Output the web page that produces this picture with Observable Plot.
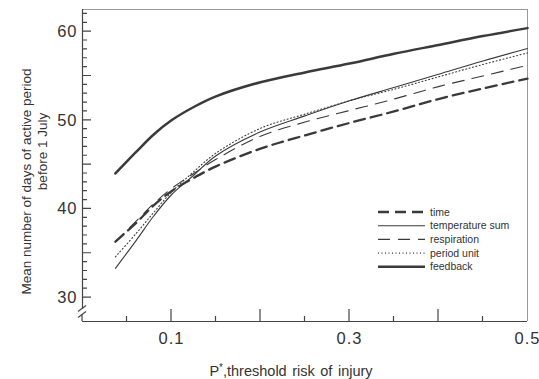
<!DOCTYPE html>
<html>
<head>
<meta charset="utf-8">
<script src="https://cdn.jsdelivr.net/npm/d3@7"></script>
<script src="https://cdn.jsdelivr.net/npm/@observablehq/plot@0.6"></script>
<style>
  html, body { margin: 0; padding: 0; background: #fff; }
  #chart { width: 539px; height: 379px; }
  .tick-lbl text { letter-spacing: 1px; }
</style>
</head>
<body>
<div id="chart"></div>
<script>
// P*, threshold risk of injury
const xs = [0.037, 0.06, 0.08, 0.1, 0.125, 0.15, 0.2, 0.25, 0.3, 0.35, 0.4, 0.45, 0.5];
// Mean number of days of active period before 1 July
const time        = [36.3, 38.4, 40.4, 42.0, 43.5, 44.8, 46.8, 48.3, 49.7, 51.0, 52.4, 53.6, 54.7];
const tempSum     = [33.3, 36.4, 39.2, 41.6, 43.8, 46.0, 48.7, 50.5, 52.2, 53.7, 55.2, 56.7, 58.1];
const respiration = [36.3, 38.6, 40.6, 42.3, 44.0, 45.6, 48.2, 49.8, 51.1, 52.4, 53.8, 55.0, 56.2];
const periodUnit  = [34.6, 37.2, 39.6, 41.9, 44.2, 46.3, 49.1, 50.7, 52.2, 53.5, 54.9, 56.3, 57.6];
const feedback    = [44.0, 46.4, 48.4, 50.0, 51.5, 52.7, 54.3, 55.4, 56.4, 57.5, 58.5, 59.5, 60.4];

const seriesNames = ["time", "temperature sum", "respiration", "period unit", "feedback"];
const seriesValues = [time, tempSum, respiration, periodUnit, feedback];

const xLabelTicks = [0.1, 0.3, 0.5];
const xMajorTicks = [0.1, 0.2, 0.3, 0.4];
const xMinorTicks = [0.05, 0.15, 0.25, 0.35, 0.45];
const yLabelTicks = [30, 40, 50, 60];
const yMajorTicks = [30, 35, 40, 45, 50, 55, 60];
const yMinorTicks = d3.range(30, 63).filter(v => v % 5 !== 0);

const styles = {
  "time":            {strokeWidth: 2.3, strokeDasharray: "11,6"},
  "temperature sum": {strokeWidth: 1.1, strokeDasharray: null},
  "respiration":     {strokeWidth: 1.1, strokeDasharray: "12,8"},
  "period unit":     {strokeWidth: 1.1, strokeDasharray: "1,2.5"},
  "feedback":        {strokeWidth: 2.5, strokeDasharray: null}
};

const rows = [];
seriesNames.forEach((name, i) => xs.forEach((x, j) => rows.push({series: name, x, y: seriesValues[i][j]})));

const lineColor = "#3a3a3a";
const axisColor = "#444";

const lineMarks = seriesNames.map(name => Plot.line(rows.filter(d => d.series === name), {
  x: "x", y: "y", curve: "catmull-rom", stroke: lineColor,
  strokeWidth: styles[name].strokeWidth,
  strokeDasharray: styles[name].strokeDasharray
}));

const yTop = 62.5, yBottom = 27.3, yBreak = 28.7;

const plot = Plot.plot({
  width: 539,
  height: 379,
  marginLeft: 82,
  marginRight: 12,
  marginTop: 9,
  marginBottom: 58,
  x: {domain: [0, 0.5]},
  y: {domain: [yBottom, yTop]},
  style: {fontFamily: "'Liberation Sans', Arial, sans-serif", color: "#333", background: "#fff", overflow: "visible"},
  marks: [
    // frame top / right (faint)
    Plot.ruleY([yTop], {stroke: "#999", strokeWidth: 1}),
    Plot.ruleX([0.5], {stroke: "#999", strokeWidth: 1}),
    // left axis with break, bottom axis
    Plot.ruleX([0], {y1: yBreak, y2: yTop, stroke: axisColor, strokeWidth: 1.2}),
    Plot.ruleY([yBottom], {stroke: axisColor, strokeWidth: 1.2}),
    // tick labels
    Plot.axisX({ticks: xLabelTicks, tickSize: 0, tickPadding: 11, fontSize: 16.5, label: null, tickFormat: d => String(d), className: "tick-lbl"}),
    Plot.axisY({ticks: yLabelTicks, tickSize: 0, tickPadding: 5, fontSize: 16.5, label: null, tickFormat: d => String(d), className: "tick-lbl"}),
    ...lineMarks
  ]
});

const svg = d3.select(plot);
const sx = plot.scale("x"), sy = plot.scale("y");

// inward-pointing ticks placed with the plot's own scales
const x0 = sx.apply(0), yB = sy.apply(yBottom);
let tickPath = "";
xMajorTicks.forEach(v => { const p = sx.apply(v); tickPath += `M${p},${yB}V${yB - 12}`; });
xMinorTicks.forEach(v => { const p = sx.apply(v); tickPath += `M${p},${yB}V${yB - 5}`; });
yMajorTicks.forEach(v => { const p = sy.apply(v); tickPath += `M${x0},${p}H${x0 + 9}`; });
yMinorTicks.forEach(v => { const p = sy.apply(v); tickPath += `M${x0},${p}H${x0 + 5}`; });
svg.append("path").attr("d", tickPath).attr("fill", "none")
  .attr("stroke", axisColor).attr("stroke-width", 1.2);

// axis break marks
const byTop = sy.apply(yBreak);
const brk = svg.append("g").attr("stroke", axisColor).attr("fill", "none").attr("stroke-width", 1.2);
brk.append("path").attr("d", `M${x0-4},${byTop+3} L${x0+4},${byTop-3}`);
brk.append("path").attr("d", `M${x0-4},${byTop+9} L${x0+4},${byTop+3}`);
brk.append("path").attr("d", `M${x0},${byTop+6} L${x0},${yB}`);

// legend
const lg = svg.append("g").attr("font-size", 10.5).attr("fill", "#333").attr("text-anchor", "start");
seriesNames.forEach((name, i) => {
  const y = 212 + i * 13.7;
  lg.append("line").attr("x1", 378).attr("x2", 425).attr("y1", y).attr("y2", y)
    .attr("stroke", lineColor).attr("stroke-width", styles[name].strokeWidth)
    .attr("stroke-dasharray", styles[name].strokeDasharray);
  lg.append("text").attr("x", 430).attr("y", y).attr("dy", "0.35em").text(name);
});

// y-axis title (two lines)
const yl = svg.append("g").attr("font-size", 13.5).attr("fill", "#333").attr("text-anchor", "middle");
yl.append("text").attr("transform", "translate(31,181.5) rotate(-90)").text("Mean number of days of active period");
yl.append("text").attr("transform", "translate(46.5,151.5) rotate(-90)").text("before 1 July");

// x-axis title
const xl = svg.append("text").attr("x", 291).attr("y", 376).attr("font-size", 14.5)
  .attr("fill", "#333").attr("text-anchor", "middle").attr("word-spacing", "1.5px");
xl.append("tspan").text("P");
xl.append("tspan").attr("font-size", 10).attr("dy", -5).text("*");
xl.append("tspan").attr("dy", 5).text(",threshold risk of injury");

document.getElementById("chart").appendChild(plot);
</script>
</body>
</html>
